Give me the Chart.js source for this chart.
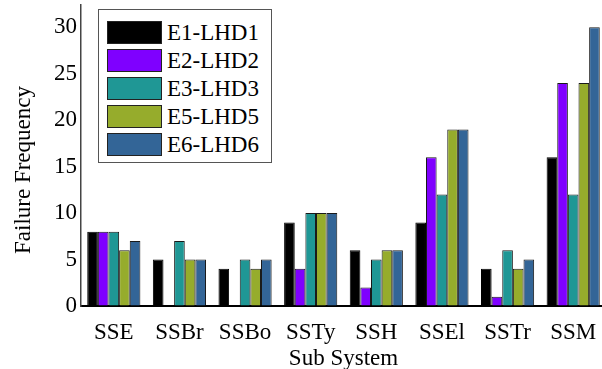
<!DOCTYPE html>
<html lang="en">
<head>
    <meta charset="UTF-8">
    <title>Failure Frequency by Sub System</title>
    <script src="https://cdn.jsdelivr.net/npm/chart.js@4.4.1/dist/chart.umd.min.js"></script>
    <style>
        html, body { margin: 0; padding: 0; overflow: hidden; background: #fff; }
        #wrap { position: relative; width: 610px; height: 369px; }
        #legend {
            position: absolute; left: 98px; top: 9px; width: 172px; height: 152px;
            border: 1px solid #555; background: #fff;
            font-family: "Liberation Serif", "Times New Roman", serif; font-size: 23px;
        }
        .item { position: absolute; left: 8px; height: 23px; display: flex; align-items: center; }
        .swatch { width: 53px; height: 21px; border: 1px solid #222; margin-right: 5px; }
    </style>
</head>
<body>
    <div id="wrap">
        <canvas id="chart"></canvas>
        <div id="legend"></div>
    </div>

    <script>
        const categories = ['SSE', 'SSBr', 'SSBo', 'SSTy', 'SSH', 'SSEl', 'SSTr', 'SSM'];
        const seriesNames = ['E1-LHD1', 'E2-LHD2', 'E3-LHD3', 'E5-LHD5', 'E6-LHD6'];
        const e1 = [8, 5, 4, 9, 6, 9, 4, 16];
        const e2 = [8, 0, 0, 4, 2, 16, 1, 24];
        const e3 = [8, 7, 5, 10, 5, 12, 6, 12];
        const e5 = [6, 5, 4, 10, 6, 19, 4, 24];
        const e6 = [7, 5, 5, 10, 6, 19, 5, 30];
        const yTicks = [0, 5, 10, 15, 20, 25, 30];

        const colors = ['#000000', '#7f00ff', '#1f9795', '#96ac2c', '#336597'];
        const values = [e1, e2, e3, e5, e6];
        const font = { family: '"Liberation Serif", "Times New Roman", serif', size: 23 };

        const datasets = seriesNames.map((name, i) => ({
            label: name,
            data: values[i],
            backgroundColor: colors[i],
            borderColor: i === 0 ? '#000' : '#1a1a1a',
            borderWidth: 1,
            borderSkipped: 'bottom',
            categoryPercentage: 0.81,
            barPercentage: 1
        }));

        // y axis title drawn by hand, it sits a bit below the middle in the original
        const yTitle = {
            id: 'yTitle',
            afterDraw(chart) {
                const c = chart.ctx;
                c.save();
                c.translate(24, 170);
                c.rotate(-Math.PI / 2);
                c.font = '23px ' + font.family;
                c.fillStyle = '#000';
                c.textAlign = 'center';
                c.textBaseline = 'middle';
                c.fillText('Failure Frequency', 0, 0);
                c.restore();
            }
        };

        new Chart(document.getElementById('chart'), {
            type: 'bar',
            data: { labels: categories, datasets: datasets },
            options: {
                responsive: true,
                maintainAspectRatio: false,
                animation: false,
                layout: { padding: { top: 5, right: 4, left: 0, bottom: 0 } },
                plugins: { legend: { display: false }, tooltip: { enabled: false } },
                scales: {
                    x: {
                        grid: { drawOnChartArea: false, drawTicks: false },
                        border: { color: '#000', width: 2 },
                        ticks: { color: '#000', font: font, padding: 13 },
                        title: { display: true, text: 'Sub System', color: '#000', font: font, padding: { top: 0, bottom: -4 } },
                        afterFit(s) { s.height = 63; s.paddingLeft = 0; s.paddingRight = 0; }
                    },
                    y: {
                        min: 0,
                        max: 32.4,
                        grid: { drawOnChartArea: false, drawTicks: false },
                        border: { color: '#444', width: 1.5 },
                        afterBuildTicks(s) { s.ticks = yTicks.map(v => ({ value: v })); },
                        ticks: { color: '#000', font: font, padding: 4 },
                        afterFit(s) { s.width = 81; s.paddingTop = 0; s.paddingBottom = 0; }
                    }
                }
            },
            plugins: [yTitle]
        });

        const legend = document.getElementById('legend');
        seriesNames.forEach((name, i) => {
            const row = document.createElement('div');
            row.className = 'item';
            row.style.top = (11 + i * 28) + 'px';
            row.innerHTML = '<div class="swatch" style="background:' + colors[i] + '"></div><span>' + name + '</span>';
            legend.appendChild(row);
        });
    </script>
</body>
</html>
